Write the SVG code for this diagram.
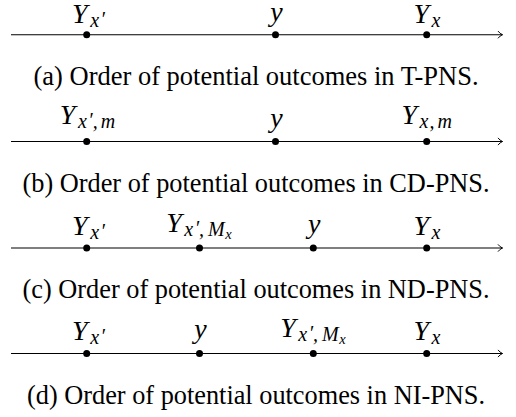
<svg xmlns="http://www.w3.org/2000/svg" width="516" height="417" viewBox="0 0 516 417">
<style>
text{font-family:'Liberation Serif','Times New Roman','Nimbus Roman','DejaVu Serif',serif;fill:#000}
.cap{font-size:26.3px;text-anchor:middle}
.m{font-style:italic;font-size:28px;text-anchor:middle}
.s{font-size:20px}
.ss{font-size:14.5px}
.axis{stroke:#000;stroke-width:1.1;fill:none}
.dot{fill:#000}
</style>
<defs>
<marker id="arr" markerUnits="userSpaceOnUse" markerWidth="10" markerHeight="10" refX="8" refY="5" orient="auto">
<path d="M3.5,1.4 Q5.6,4.1 8,5 Q5.6,5.9 3.5,8.6" fill="none" stroke="#000" stroke-width="1"/>
</marker>
</defs>
<g id="connectors">
<path class="axis" d="M11,34.7 H502.5" marker-end="url(#arr)"/>
<path class="axis" d="M11,141.5 H502.5" marker-end="url(#arr)"/>
<path class="axis" d="M11,248 H502.5" marker-end="url(#arr)"/>
<path class="axis" d="M11,353.5 H502.5" marker-end="url(#arr)"/>
</g>
<g id="a1"><circle class="dot" cx="86.7" cy="34.7" r="3.5"/><text class="m" x="88.5" y="22.5">Y<tspan class="s" dx="2.5" dy="4">x</tspan><tspan class="s" dx="1.5" dy="-1">′</tspan></text></g>
<g id="a2"><circle class="dot" cx="275.5" cy="34.7" r="3.5"/><text class="m" x="276.5" y="21.2">y</text></g>
<g id="a3"><circle class="dot" cx="426.7" cy="34.7" r="3.5"/><text class="m" x="427" y="22.5">Y<tspan class="s" dx="2.5" dy="4">x</tspan></text></g>
<g id="b1"><circle class="dot" cx="86.7" cy="141.5" r="3.5"/><text class="m" x="87.5" y="124.3">Y<tspan class="s" dx="2.5" dy="4">x</tspan><tspan class="s" dx="1.5" dy="-1">′</tspan><tspan class="s" dy="1">,</tspan><tspan class="s" dx="3">m</tspan></text></g>
<g id="b2"><circle class="dot" cx="275.5" cy="141.5" r="3.5"/><text class="m" x="276.5" y="127.3">y</text></g>
<g id="b3"><circle class="dot" cx="426.7" cy="141.5" r="3.5"/><text class="m" x="426.7" y="124.3">Y<tspan class="s" dx="2.5" dy="4">x</tspan><tspan class="s" dx="1">,</tspan><tspan class="s" dx="3">m</tspan></text></g>
<g id="c1"><circle class="dot" cx="86.7" cy="248" r="3.5"/><text class="m" x="88.5" y="235">Y<tspan class="s" dx="2.5" dy="4">x</tspan><tspan class="s" dx="1.5" dy="-1">′</tspan></text></g>
<g id="c2"><circle class="dot" cx="199.5" cy="248" r="3.5"/><text class="m" x="199" y="231.5">Y<tspan class="s" dx="2.5" dy="4">x</tspan><tspan class="s" dx="1.5" dy="-1">′</tspan><tspan class="s" dy="1">,</tspan><tspan class="s" dx="4">M</tspan><tspan class="ss" dx="0.5" dy="3">x</tspan></text></g>
<g id="c3"><circle class="dot" cx="313.3" cy="248" r="3.5"/><text class="m" x="314.3" y="232.5">y</text></g>
<g id="c4"><circle class="dot" cx="426.7" cy="248" r="3.5"/><text class="m" x="427" y="235">Y<tspan class="s" dx="2.5" dy="4">x</tspan></text></g>
<g id="d1"><circle class="dot" cx="86.7" cy="353.5" r="3.5"/><text class="m" x="88.5" y="340">Y<tspan class="s" dx="2.5" dy="4">x</tspan><tspan class="s" dx="1.5" dy="-1">′</tspan></text></g>
<g id="d2"><circle class="dot" cx="199.5" cy="353.5" r="3.5"/><text class="m" x="200.5" y="338.3">y</text></g>
<g id="d3"><circle class="dot" cx="313.3" cy="353.5" r="3.5"/><text class="m" x="313" y="336.7">Y<tspan class="s" dx="2.5" dy="4">x</tspan><tspan class="s" dx="1.5" dy="-1">′</tspan><tspan class="s" dy="1">,</tspan><tspan class="s" dx="4">M</tspan><tspan class="ss" dx="0.5" dy="3">x</tspan></text></g>
<g id="d4"><circle class="dot" cx="426.7" cy="353.5" r="3.5"/><text class="m" x="427" y="340">Y<tspan class="s" dx="2.5" dy="4">x</tspan></text></g>
<text class="cap" x="256" y="85" textLength="445" lengthAdjust="spacingAndGlyphs">(a) Order of potential outcomes in T-PNS.</text>
<text class="cap" x="256" y="191.8" textLength="467" lengthAdjust="spacingAndGlyphs">(b) Order of potential outcomes in CD-PNS.</text>
<text class="cap" x="256" y="298.3" textLength="467" lengthAdjust="spacingAndGlyphs">(c) Order of potential outcomes in ND-PNS.</text>
<text class="cap" x="256" y="403.8" textLength="458" lengthAdjust="spacingAndGlyphs">(d) Order of potential outcomes in NI-PNS.</text>
</svg>
